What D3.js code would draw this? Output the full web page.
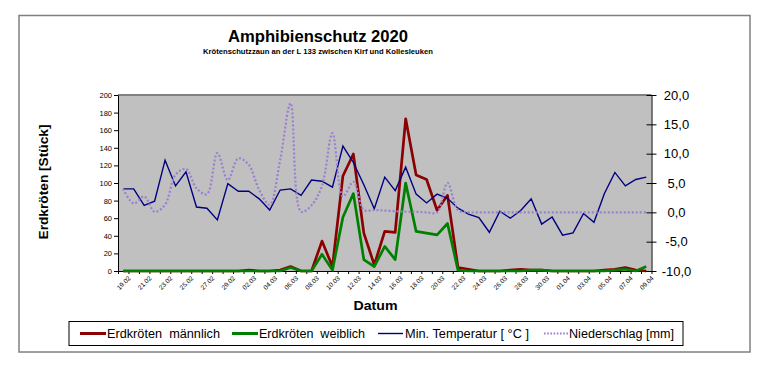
<!DOCTYPE html>
<html><head><meta charset="utf-8">
<script src="https://cdn.jsdelivr.net/npm/d3@7"></script>
<style>
body{margin:0;background:#fff;}
svg{display:block;font-family:"Liberation Sans",Arial,sans-serif;}
</style></head>
<body>
<svg id="c" width="763" height="368"></svg>
<script>
const dates = ["19.02","20.02","21.02","22.02","23.02","24.02","25.02","26.02","27.02","28.02","29.02",
"01.03","02.03","03.03","04.03","05.03","06.03","07.03","08.03","09.03","10.03","11.03","12.03","13.03","14.03","15.03",
"16.03","17.03","18.03","19.03","20.03","21.03","22.03","23.03","24.03","25.03","26.03","27.03","28.03","29.03","30.03","31.03",
"01.04","02.04","03.04","04.04","05.04","06.04","07.04","08.04","09.04"];
const tickLabels = ["19.02","21.02","23.02","25.02","27.02","29.02","02.03","04.03","06.03","08.03","10.03","12.03","14.03",
"16.03","18.03","20.03","22.03","24.03","26.03","28.03","30.03","01.04","03.04","05.04","07.04","09.04"];
const male = [0,0,0,0,0,0,0,0,0,0, 0,0,1,0,0,1,5,0,0,34, 5,108,133,43,7,45,44,173,109,104, 69,86,4,2,0,0,0,1,2,1, 1,0,0,0,0,0,1,2,4,1, 0];
const female = [0,0,0,0,0,0,0,0,0,0, 0,0,0,0,0,0,4,0,0,19, 1,61,88,13,5,28,13,100,45,43, 41,54,1,0,0,0,0,0,0,1, 1,0,0,0,0,0,0,1,2,0, 5];
const temperature = [4.0,4.0,1.2,1.9,8.9,4.5,6.9,0.9,0.7,-1.3, 4.9,3.6,3.6,2.3,0.4,3.8,4.0,2.9,5.5,5.3, 4.3,11.3,8.5,4.7,0.6,6.0,3.7,7.7,3.1,1.6, 3.1,2.4,0.7,-0.3,-0.9,-3.4,0.2,-1.0,0.3,2.3, -2.0,-0.8,-3.9,-3.5,-0.2,-1.7,3.2,6.8,4.5,5.6, 6.0];
const precipitation = [4.0,1.5,2.7,0.1,1.3,6.4,7.4,4.1,3.1,10.1, 5.5,9.2,8.1,3.8,1.3,8.9,18.6,0.1,1.2,4.5, 13.5,2.7,5.2,0.4,0.4,0.3,0.2,0.1,0.1,0.0, 0.0,5.0,0.4,0,0,0,0,0,0,0, 0,0,0,0,0,0,0,0,0,0, 0];
const leftTicks = [0,20,40,60,80,100,120,140,160,180,200];
const rightTicks = [-10,-5,0,5,10,15,20];
const legendItems = [
  {label:"Erdkröten  männlich", key:"male"},
  {label:"Erdkröten  weiblich", key:"female"},
  {label:"Min. Temperatur [ °C ]", key:"temp"},
  {label:"Niederschlag [mm]", key:"prec"}
];

const svg = d3.select("#c");
const L = 118, R = 651.5, T = 95, B = 271;
const cRed = "#8b0000", cGreen = "#008000", cBlue = "#000080", cPurple = "#9a7fd1";

// outer border
svg.append("rect").attr("x",19).attr("y",15.5).attr("width",731).attr("height",336.5)
  .attr("fill","#fff").attr("stroke","#808080").attr("stroke-width",1.5);

// titles
svg.append("text").attr("x",318).attr("y",42).attr("text-anchor","middle")
  .attr("font-size",16).attr("font-weight","bold").attr("textLength",180).attr("lengthAdjust","spacingAndGlyphs")
  .text("Amphibienschutz 2020");
svg.append("text").attr("x",318).attr("y",53.5).attr("text-anchor","middle")
  .attr("font-size",7).attr("font-weight","bold").attr("textLength",230).attr("lengthAdjust","spacingAndGlyphs")
  .text("Krötenschutzzaun an der L 133 zwischen Kirf und Kollesleuken");

// scales
const xBand = d3.scaleBand().domain(dates).range([L,R]).padding(0);
const xIdx = d3.scaleLinear().domain([0,dates.length]).range([L,R]);
const yL = d3.scaleLinear().domain([0,200]).range([B,T]);
const yR = d3.scaleLinear().domain([-10,20]).range([B,T]);
const cx = d => xBand(d) + xBand.bandwidth()/2;

// plot area
svg.append("rect").attr("x",L).attr("y",T).attr("width",R-L).attr("height",B-T).attr("fill","#c0c0c0");
svg.append("line").attr("x1",L).attr("x2",R).attr("y1",T).attr("y2",T).attr("stroke","#808080").attr("stroke-width",2);

// left axis
const gL = svg.append("g").attr("transform",`translate(${L},0)`)
  .call(d3.axisLeft(yL).tickValues(leftTicks).tickSize(4).tickSizeOuter(0).tickPadding(2));
gL.selectAll("text").attr("font-size",7.5).attr("font-family","Liberation Sans, Arial, sans-serif").attr("fill","#000");
gL.selectAll("line,path").attr("stroke","#000");

// right axis
const fmt = d => d3.format(".1f")(d).replace(".",",").replace("\u2212","-");
const gR = svg.append("g").attr("transform",`translate(${R},0)`)
  .call(d3.axisRight(yR).tickValues(rightTicks).tickSize(5).tickSizeOuter(0).tickFormat(fmt));
gR.selectAll(".tick line").attr("x1",-5);
gR.selectAll("text").attr("font-size",13).attr("font-family","Liberation Sans, Arial, sans-serif")
  .attr("text-anchor","middle").attr("x",25).attr("fill","#000");
gR.selectAll("line,path").attr("stroke","#000");

// bottom axis ticks
const gB = svg.append("g").attr("transform",`translate(0,${B})`)
  .call(d3.axisBottom(xIdx).tickValues(d3.range(dates.length+1)).tickSize(3).tickSizeOuter(0).tickFormat(""));
gB.selectAll("line,path").attr("stroke","#000");
const gBL = svg.append("g").attr("transform",`translate(${xBand.bandwidth()/2},${B})`)
  .call(d3.axisBottom(xBand).tickValues(tickLabels).tickSize(0).tickPadding(0));
gBL.select(".domain").remove();
gBL.selectAll("text").attr("font-size",6.5).attr("font-family","Liberation Sans, Arial, sans-serif")
  .attr("fill","#000").attr("text-anchor","end").attr("y",0).attr("dy","0.35em")
  .attr("transform","translate(1,6) rotate(-45)");

// axis titles
svg.append("text").attr("transform","translate(48,182) rotate(-90)").attr("text-anchor","middle")
  .attr("font-size",13).attr("font-weight","bold").attr("textLength",115).attr("lengthAdjust","spacingAndGlyphs")
  .text("Erdkröten [Stück]");
svg.append("text").attr("x",375.5).attr("y",310).attr("text-anchor","middle")
  .attr("font-size",13).attr("font-weight","bold").attr("textLength",44).attr("lengthAdjust","spacingAndGlyphs")
  .text("Datum");

// series
const lineL = d3.line().x((d,i)=>cx(dates[i])).y(d=>yL(d));
const lineR = d3.line().x((d,i)=>cx(dates[i])).y(d=>yR(d));
const lineRs = d3.line().x((d,i)=>cx(dates[i])).y(d=>yR(d)).curve(d3.curveCatmullRom.alpha(0.5));
const plot = svg.append("g");
plot.append("path").datum(male).attr("d",lineL).attr("fill","none").attr("stroke",cRed).attr("stroke-width",2.7).attr("stroke-linejoin","round");
plot.append("path").datum(female).attr("d",lineL).attr("fill","none").attr("stroke",cGreen).attr("stroke-width",2.7).attr("stroke-linejoin","round");
plot.append("path").datum(temperature).attr("d",lineR).attr("fill","none").attr("stroke",cBlue).attr("stroke-width",1.4);
plot.append("path").datum(precipitation).attr("d",lineRs).attr("fill","none").attr("stroke",cPurple).attr("stroke-width",2.2).attr("stroke-dasharray","2,2");

// legend
svg.append("rect").attr("x",69).attr("y",321.5).attr("width",614).attr("height",24)
  .attr("fill","#fff").attr("stroke","#000").attr("stroke-width",1);
const legPos = [
  {x1:80,x2:106,tx:107,tl:113},
  {x1:232,x2:258,tx:259,tl:106},
  {x1:378,x2:403,tx:405,tl:124},
  {x1:544,x2:568,tx:569,tl:105}
];
const styles = {
  male:{c:cRed,w:3,dash:null},
  female:{c:cGreen,w:3,dash:null},
  temp:{c:cBlue,w:1.4,dash:null},
  prec:{c:cPurple,w:2,dash:"1.6,1.6"}
};
legendItems.forEach((it,k)=>{
  const p = legPos[k], s = styles[it.key];
  const ln = svg.append("line").attr("x1",p.x1).attr("x2",p.x2).attr("y1",333.5).attr("y2",333.5)
    .attr("stroke",s.c).attr("stroke-width",s.w);
  if (s.dash) ln.attr("stroke-dasharray",s.dash);
  svg.append("text").attr("x",p.tx).attr("y",338).attr("font-size",12.5)
    .style("white-space","pre").attr("textLength",p.tl).attr("lengthAdjust","spacingAndGlyphs")
    .text(it.label);
});
</script>
</body></html>
